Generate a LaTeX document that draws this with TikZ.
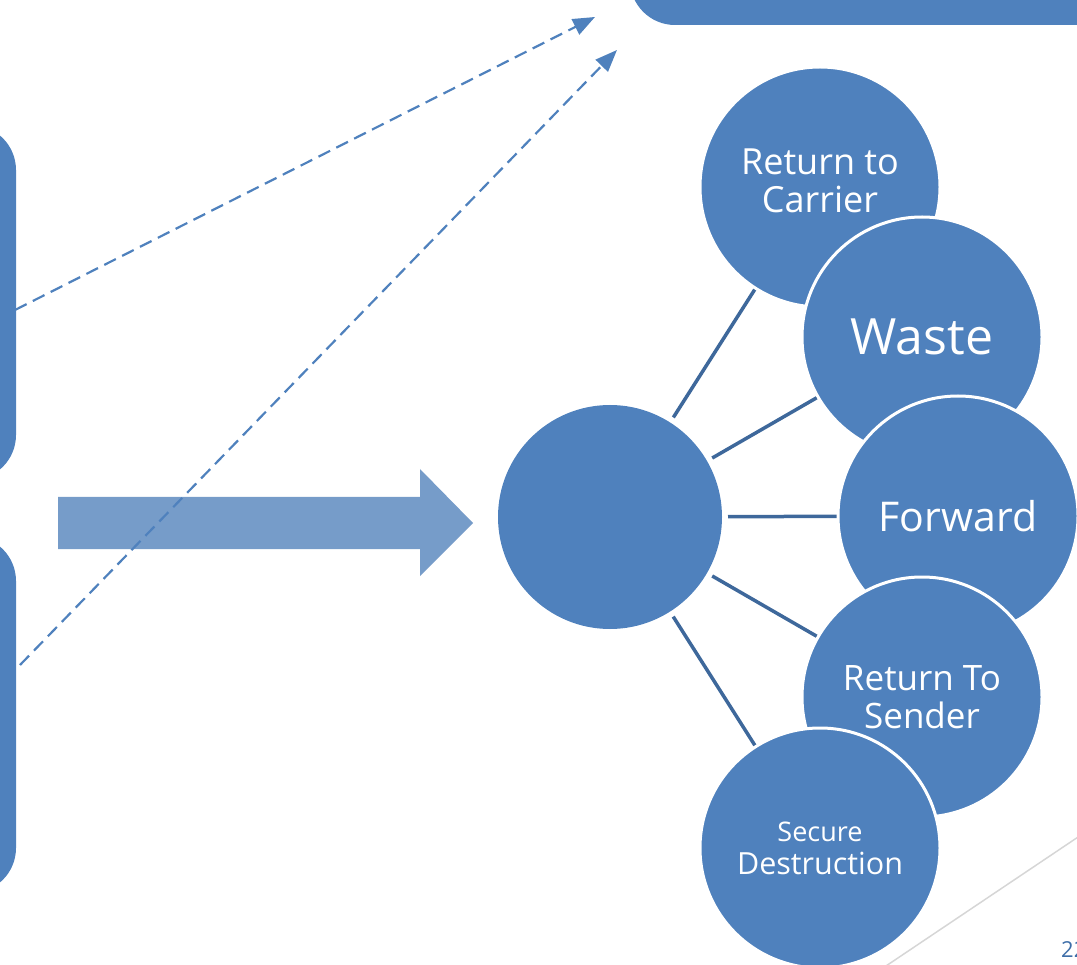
\documentclass[tikz,border=0pt]{standalone}
\usepackage{fontspec}
\setmainfont{Open Sans}
\usetikzlibrary{arrows.meta}

\definecolor{bubble}{RGB}{79,129,189}
\definecolor{spoke}{RGB}{62,104,155}
\definecolor{bigarrow}{RGB}{118,156,201}
\definecolor{pagenum}{RGB}{62,110,168}
\definecolor{rulegrey}{RGB}{214,214,214}

\begin{document}
\begin{tikzpicture}[x=1pt,y=-1pt,
  panel/.style={rectangle, fill=bubble, draw=none, rounded corners=45pt, inner sep=0pt, outer sep=0pt},
  hubnode/.style={circle, fill=bubble, minimum size=224pt, inner sep=0pt, outer sep=0pt},
  leaf/.style={circle, fill=bubble, draw=white, line width=3pt, minimum size=240pt,
    inner sep=0pt, outer sep=0pt, text=white, align=center},
  link/.style={draw=spoke, line width=3.5pt, shorten <=6pt, shorten >=121pt},
  hint/.style={draw=bubble, line width=2.2pt, dash pattern=on 13pt off 7pt,
    -{Triangle[length=22pt,width=17pt]}},
]
\useasboundingbox (0,0) rectangle (1077,965);
\clip (0,0) rectangle (1077,965);

% panels running off the edges
\node[panel, minimum width=570pt, minimum height=125pt] (toppanel) at (915,-37.5) {};
\node[panel, minimum width=316pt, minimum height=355pt] (leftA) at (-142,302.5) {};
\node[panel, minimum width=316pt, minimum height=357pt] (leftB) at (-142,714.5) {};

% wide block arrow
\fill[bigarrow] (58,497) -- (420,497) -- (420,469) -- (473,523) -- (420,576)
  -- (420,549) -- (58,549) -- cycle;

% dashed arrows up to the top panel
\coordinate (hAs) at (15,310);
\coordinate (hAe) at (595,17);
\coordinate (hBs) at (20,665);
\coordinate (hBe) at (617,50);
\draw[hint] (hAs) -- (hAe);
\draw[hint] (hBs) -- (hBe);

% hub and spokes
\node[hubnode] (hub) at (610,517) {};
\coordinate (cCar) at (820,187);
\coordinate (cWas) at (922,337);
\coordinate (cFwd) at (958,516);
\coordinate (cSnd) at (922,697);
\coordinate (cDes) at (820,848);
\foreach \c in {cCar,cWas,cFwd,cSnd,cDes}
  \path[link] (hub) -- (\c);

% outer circles, each laid over the one before
\node[leaf, text depth=12pt, font=\fontsize{36}{38}\selectfont] (carrier) at (cCar) {Return to\\Carrier};
\node[leaf, font=\fontsize{50}{52}\selectfont] (waste) at (cWas) {Waste};
\node[leaf, font=\fontsize{41}{42}\selectfont] (forward) at (cFwd) {Forward};
\node[leaf, font=\fontsize{35}{38}\selectfont] (sender) at (cSnd) {Return To\\Sender};
\node[leaf, font=\fontsize{27}{31}\selectfont] (destruction) at (cDes)
  {Secure\\[2pt]{\fontsize{30.5}{31}\selectfont Destruction}};

% slide footer
\coordinate (rA) at (880,970);
\coordinate (rB) at (1090,829);
\draw[rulegrey, line width=1.5pt] (rA) -- (rB);
\node[anchor=base west, inner sep=0pt, text=pagenum, font=\fontsize{22}{22}\selectfont] (pg) at (1061,957) {22};
\end{tikzpicture}
\end{document}
